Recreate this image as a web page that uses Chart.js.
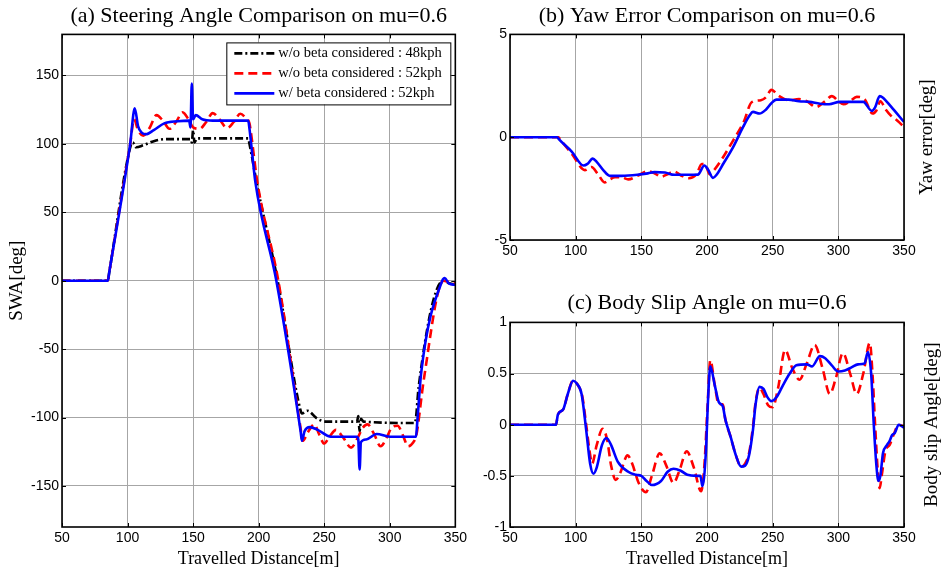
<!DOCTYPE html>
<html>
<head>
<meta charset="utf-8">
<script src="https://cdn.jsdelivr.net/npm/chart.js@4.4.0/dist/chart.umd.min.js"></script>
<style>
  body { margin: 0; background: #fff; }
  canvas { position: absolute; }
</style>
</head>
<body>
<canvas id="chartSwa" width="470" height="576" style="left:0;top:0"></canvas>
<canvas id="chartYaw" width="474" height="270" style="left:470px;top:0"></canvas>
<canvas id="chartSlip" width="474" height="306" style="left:470px;top:270px"></canvas>
<script>
// tick values
const distTicks = [50, 100, 150, 200, 250, 300, 350];
const swaTicks = [-150, -100, -50, 0, 50, 100, 150];
const yawTicks = [-5, 0, 5];
const slipTicks = [-1, -0.5, 0, 0.5, 1];

// (a) steering wheel angle [deg] vs travelled distance [m]
const swa48 = [[50,0],[85,0],[86,5.9],[102.5,99],[104,101],[106.5,97.5],[112,99],[120,102],[130,103.5],[148,103.5],[149,101],[150,110],[151,101],[153,104],[170,104],[192,104],[193,100],[199,69],[214.5,0],[232,-95],[233,-97],[237,-95],[245,-101],[252,-103],[275,-103],[276,-99],[277,-110],[278,-101],[280,-103],[319,-104],[320,-100],[322,-78],[341,0],[343,-1],[350,-3]];
const swa52 = [[50,0],[85,0],[86,5.9],[102,100],[105,118],[108,110],[112,106],[117,112],[122,121],[127,117],[132,111],[137,116],[142,123],[147,117],[150,112],[155,111],[160,116],[165,122.5],[170,118],[176,111.5],[181,116],[186,122],[190,119],[193,115],[194,109],[199,72],[215,0],[232,-108],[233.5,-117],[238,-110],[242.5,-105],[246,-112],[250,-119],[254,-114],[259,-109],[264,-114],[270.5,-122],[276,-114],[279,-108],[283,-105],[288,-112],[293,-121],[298,-114],[301,-108],[306,-106],[310,-113],[314,-121],[318,-118],[320,-114],[321,-109],[326,-72],[341,0],[345,-1],[350,-2]];
const swa52beta = [[50,0],[85,0],[86,5.9],[102,100],[105.5,126],[108,113],[111,108],[114,107],[120,110],[128,115],[138,116.5],[147,117],[148,112],[149,144],[150,118],[152,121],[157,118],[165,117],[192,117],[193,111],[197.5,72],[213.5,0],[232,-110],[233,-117],[235,-110],[239,-107],[245,-109],[255,-114],[275,-114],[276,-116],[277,-138],[278,-118],[282,-116],[290,-112],[300,-114],[320,-114],[321,-103],[324,-67],[340,0],[342,2],[345,-2],[350,-3]];

// (b) yaw error [deg]
const yaw52 = [[50,0],[87,0],[88,-0.09],[97,-0.8],[107,-1.6],[112,-1.45],[117,-1.8],[122,-2.2],[126,-2.05],[130,-1.95],[135,-1.95],[140,-2.05],[148,-1.85],[155,-1.65],[160,-1.75],[165,-1.92],[170,-1.8],[175,-1.67],[180,-1.85],[186,-2.0],[192,-1.8],[196,-1.3],[199,-1.35],[202,-1.8],[206,-1.55],[211,-1.1],[220,-0.15],[228,0.75],[234,1.7],[241,1.8],[245,1.95],[249,2.3],[255,2.0],[262,1.8],[270,1.85],[276,1.75],[283,1.47],[290,1.75],[295,2.0],[300,1.75],[304,1.6],[309,1.75],[314,1.96],[320,1.85],[326,1.15],[329,1.3],[332,1.75],[336,1.35],[340,1.05],[345,0.8],[350,0.5]];
const yaw52beta = [[50,0],[86,0],[87,-0.08],[97,-0.7],[106,-1.38],[109,-1.3],[113,-1.04],[116,-1.2],[121,-1.6],[126,-1.88],[135,-1.88],[147,-1.83],[155,-1.76],[160,-1.7],[168,-1.72],[175,-1.83],[185,-1.83],[193,-1.82],[198,-1.38],[201,-1.6],[204.5,-1.98],[207,-1.85],[212.5,-1.28],[220,-0.47],[227.5,0.5],[232.5,1.07],[235,1.23],[240,1.15],[245,1.35],[249,1.65],[253,1.83],[262,1.83],[270,1.75],[278,1.72],[286,1.63],[293,1.6],[301,1.72],[310,1.72],[319,1.72],[325.5,1.28],[328,1.45],[331.5,2.0],[334,1.92],[340,1.5],[350,0.74]];

// (c) body slip angle [deg]
const slip52 = [[50,0],[85,0],[86.5,0.1],[90.5,0.15],[94,0.3],[98,0.43],[101,0.4],[105,0.28],[108,0.0],[110.5,-0.25],[112.5,-0.38],[116,-0.2],[120.5,-0.04],[124,-0.15],[127,-0.4],[130.5,-0.54],[134,-0.47],[139.5,-0.3],[143,-0.38],[148,-0.57],[153.5,-0.66],[158,-0.5],[164,-0.28],[169,-0.4],[174.5,-0.57],[179,-0.45],[184.5,-0.26],[190,-0.42],[195.5,-0.65],[198,-0.4],[200.5,0.2],[202.5,0.63],[206,0.38],[209,0.2],[212,0.2],[214,0.05],[218,-0.12],[222,-0.3],[226,-0.41],[229,-0.38],[232,-0.28],[235,-0.02],[237,0.22],[240,0.36],[243,0.3],[246.5,0.19],[250,0.17],[254,0.35],[259.5,0.73],[265,0.55],[270.5,0.44],[276,0.6],[282,0.78],[288,0.55],[293.5,0.3],[298,0.45],[303.5,0.7],[309,0.5],[314,0.3],[319,0.5],[324,0.8],[326,0.5],[328,0.0],[330,-0.45],[331.5,-0.62],[333,-0.5],[336,-0.25],[339,-0.2],[342,-0.1],[346,0.0],[350,-0.02]];
const slip52beta = [[50,0],[85,0],[86.5,0.1],[90.5,0.15],[94,0.3],[98,0.43],[101,0.4],[104.5,0.3],[108,-0.05],[111,-0.38],[113.5,-0.48],[116,-0.42],[120,-0.2],[123.5,-0.13],[127,-0.2],[132,-0.36],[140,-0.46],[146,-0.49],[150,-0.5],[154,-0.55],[158,-0.59],[165,-0.55],[170,-0.46],[174.5,-0.43],[180,-0.45],[185,-0.49],[192,-0.5],[195,-0.5],[196.5,-0.6],[199,-0.3],[201,0.3],[202.5,0.57],[206,0.38],[209,0.22],[212,0.18],[214,0.05],[218,-0.12],[222,-0.3],[226,-0.41],[229,-0.4],[232,-0.3],[235,-0.05],[237,0.2],[240,0.37],[243,0.35],[246,0.27],[249,0.23],[253,0.27],[258,0.39],[263,0.5],[268,0.58],[276,0.59],[280,0.57],[286,0.67],[290,0.65],[295,0.58],[300,0.52],[305,0.53],[310,0.56],[315,0.59],[320,0.6],[322.5,0.71],[325,0.5],[327,0.0],[329,-0.4],[330.5,-0.55],[332,-0.5],[334,-0.28],[337,-0.2],[339,-0.16],[341,-0.1],[343,-0.08],[346,0.0],[350,-0.03]];

const serif = '"Liberation Serif", "Times New Roman", serif';
const sans = '"Liberation Sans", Arial, sans-serif';
Chart.defaults.font.family = sans;
Chart.defaults.font.size = 14;
Chart.defaults.color = '#000';

const toXY = pts => pts.map(p => ({ x: p[0], y: p[1] }));

function series(label, pts, color, dash, order) {
  return {
    label: label,
    data: toXY(pts),
    borderColor: color,
    borderWidth: 2.6,
    borderDash: dash,
    pointRadius: 0,
    cubicInterpolationMode: 'monotone',
    fill: false,
    order: order
  };
}

// black box around the plot plus small inward tick marks
const axesBox = {
  id: 'axesBox',
  afterDraw(chart) {
    const { ctx, chartArea: a, scales } = chart;
    ctx.save();
    ctx.strokeStyle = '#000';
    ctx.lineWidth = 1;
    ctx.beginPath();
    scales.x.ticks.forEach(t => {
      const px = Math.round(scales.x.getPixelForValue(t.value)) + 0.5;
      ctx.moveTo(px, a.bottom); ctx.lineTo(px, a.bottom - 4);
      ctx.moveTo(px, a.top); ctx.lineTo(px, a.top + 4);
    });
    scales.y.ticks.forEach(t => {
      const py = Math.round(scales.y.getPixelForValue(t.value)) + 0.5;
      ctx.moveTo(a.left, py); ctx.lineTo(a.left + 4, py);
      ctx.moveTo(a.right, py); ctx.lineTo(a.right - 4, py);
    });
    ctx.stroke();
    ctx.lineWidth = 1.6;
    ctx.strokeRect(a.left, a.top, a.right - a.left, a.bottom - a.top);
    ctx.restore();
  }
};

// boxed legend in the upper right corner of the plot
const legendBox = {
  id: 'legendBox',
  afterDatasetsDraw(chart, args, opts) {
    if (!opts.display) return;
    const { ctx, chartArea } = chart;
    const sets = chart.data.datasets;
    const left = chartArea.right - opts.right - opts.width;
    const top = chartArea.top + opts.top;
    const h = opts.rowHeight * sets.length + opts.pad * 2;
    ctx.save();
    ctx.fillStyle = '#fff';
    ctx.fillRect(left, top, opts.width, h);
    ctx.strokeStyle = '#000';
    ctx.lineWidth = 1;
    ctx.strokeRect(left + 0.5, top + 0.5, opts.width, h);
    ctx.font = opts.font;
    ctx.textBaseline = 'middle';
    sets.forEach((ds, i) => {
      const y = top + opts.pad + opts.rowHeight * (i + 0.5);
      ctx.strokeStyle = ds.borderColor;
      ctx.lineWidth = ds.borderWidth;
      ctx.setLineDash(ds.borderDash || []);
      ctx.beginPath();
      ctx.moveTo(left + 8, y);
      ctx.lineTo(left + 48, y);
      ctx.stroke();
      ctx.setLineDash([]);
      ctx.fillStyle = '#000';
      ctx.fillText(ds.label, left + 52, y);
    });
    ctx.restore();
  }
};

// y label written on the right side, reading upwards
const sideLabel = {
  id: 'sideLabel',
  afterDraw(chart, args, opts) {
    if (!opts.text) return;
    const { ctx, chartArea } = chart;
    ctx.save();
    ctx.translate(chartArea.right + opts.offset, (chartArea.top + chartArea.bottom) / 2);
    ctx.rotate(-Math.PI / 2);
    ctx.font = opts.font;
    ctx.textAlign = 'center';
    ctx.textBaseline = 'middle';
    ctx.fillStyle = '#000';
    ctx.fillText(opts.text, 0, 0);
    ctx.restore();
  }
};

function plotOptions(cfg) {
  const grid = { color: '#a6a6a6', lineWidth: 1, drawTicks: false };
  return {
    responsive: false,
    animation: false,
    layout: { padding: { left: 0, right: cfg.padRight, top: 0, bottom: 0 } },
    plugins: {
      legend: { display: false },
      tooltip: { enabled: false },
      title: {
        display: true,
        text: cfg.title,
        fullSize: false,
        color: '#000',
        font: { family: serif, size: 22, weight: 'normal' },
        padding: cfg.titlePad
      },
      legendBox: cfg.legend || { display: false },
      sideLabel: cfg.side || {}
    },
    scales: {
      x: {
        type: 'linear',
        min: 50,
        max: 350,
        afterBuildTicks: s => { s.ticks = distTicks.map(v => ({ value: v })); },
        afterFit: s => { s.height = cfg.xHeight; },
        ticks: { padding: 3, callback: v => String(v) },
        grid: grid,
        border: { display: false },
        title: {
          display: !!cfg.xTitle,
          text: cfg.xTitle || '',
          font: { family: serif, size: 18 },
          padding: { top: 0, bottom: 6 }
        }
      },
      y: {
        type: 'linear',
        min: cfg.yMin,
        max: cfg.yMax,
        afterBuildTicks: s => { s.ticks = cfg.yTicks.map(v => ({ value: v })); },
        afterFit: s => { s.width = cfg.yWidth; },
        ticks: { padding: 3, callback: v => String(v) },
        grid: grid,
        border: { display: false },
        title: {
          display: !!cfg.yTitle,
          text: cfg.yTitle || '',
          font: { family: serif, size: 19 },
          padding: { top: 6, bottom: 0 }
        }
      }
    }
  };
}

new Chart(document.getElementById('chartSwa'), {
  type: 'line',
  data: {
    datasets: [
      series('w/o beta considered : 48kph', swa48, '#000000', [8, 3, 2, 3], 2),
      series('w/o beta considered : 52kph', swa52, '#ff0000', [9, 5], 1),
      series('w/ beta considered : 52kph', swa52beta, '#0000ff', [], 0)
    ]
  },
  options: plotOptions({
    title: '(a) Steering Angle Comparison on mu=0.6',
    titlePad: { top: 3, bottom: 5 },
    padRight: 14,
    xHeight: 49,
    yWidth: 62,
    xTitle: 'Travelled Distance[m]',
    yTitle: 'SWA[deg]',
    yMin: -180,
    yMax: 180,
    yTicks: swaTicks,
    legend: { display: true, right: 5, top: 8, width: 224, rowHeight: 20, pad: 1, font: '14.5px ' + serif }
  }),
  plugins: [axesBox, legendBox]
});

new Chart(document.getElementById('chartYaw'), {
  type: 'line',
  data: {
    datasets: [
      series('w/o beta considered : 52kph', yaw52, '#ff0000', [9, 5], 1),
      series('w/ beta considered : 52kph', yaw52beta, '#0000ff', [], 0)
    ]
  },
  options: plotOptions({
    title: '(b) Yaw Error Comparison on mu=0.6',
    titlePad: { top: 3, bottom: 5 },
    padRight: 40,
    xHeight: 30,
    yWidth: 40,
    yMin: -5,
    yMax: 5,
    yTicks: yawTicks,
    side: { text: 'Yaw error[deg]', offset: 23, font: '19px ' + serif }
  }),
  plugins: [axesBox, sideLabel]
});

new Chart(document.getElementById('chartSlip'), {
  type: 'line',
  data: {
    datasets: [
      series('w/o beta considered : 52kph', slip52, '#ff0000', [9, 5], 1),
      series('w/ beta considered : 52kph', slip52beta, '#0000ff', [], 0)
    ]
  },
  options: plotOptions({
    title: '(c) Body Slip Angle on mu=0.6',
    titlePad: { top: 20, bottom: 6 },
    padRight: 40,
    xHeight: 49,
    yWidth: 40,
    xTitle: 'Travelled Distance[m]',
    yMin: -1,
    yMax: 1,
    yTicks: slipTicks,
    side: { text: 'Body slip Angle[deg]', offset: 28, font: '19px ' + serif }
  }),
  plugins: [axesBox, sideLabel]
});
</script>
</body>
</html>
